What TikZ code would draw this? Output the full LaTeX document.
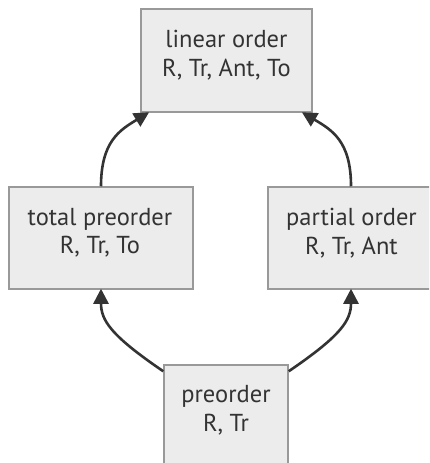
\documentclass[tikz,border=0pt]{standalone}
\usepackage{fontspec}
\setmainfont{PT Sans}
\usetikzlibrary{arrows.meta,calc}
\definecolor{boxfill}{HTML}{ECECEC}
\definecolor{boxline}{HTML}{999999}
\definecolor{ink}{HTML}{333333}
\tikzset{
  box/.style={draw=boxline, line width=1.5pt, fill=boxfill, inner sep=0pt},
  txt/.style={text=ink, align=center, font=\fontsize{24.5}{28.5}\selectfont, inner sep=0pt},
  conn/.style={draw=ink, line width=2.6pt, -{Triangle[length=15pt,width=15pt]}, shorten >=-1pt}
}
\begin{document}
\begin{tikzpicture}[x=1pt,y=-1pt]
\useasboundingbox (0,0) rectangle (429,463);
\clip (0,0) rectangle (429,463);
% boxes
\node[box, minimum width=171pt, minimum height=103pt] (lin) at (226.5,60.5) {};
\node[box, minimum width=184pt, minimum height=102pt] (tot) at (101,238) {};
\node[box, minimum width=166pt, minimum height=102pt] (par) at (351,238) {};
\node[box, minimum width=124pt, minimum height=102pt] (pre) at (226,416) {};
% texts
\node[txt] (linT) at (226.5,55) {linear order\\R, Tr, Ant, To};
\node[txt] (totT) at (100,232.5) {total preorder\\R, Tr, To};
\node[txt] (parT) at (351.5,233) {partial order\\R, Tr, Ant};
\node[txt] (preT) at (226,410) {preorder\\R, Tr};
% connectors
\coordinate (totTop) at (tot.north);
\coordinate (parTop) at (par.north);
\draw[conn] (totTop) .. controls ($(totTop)+(0,-45)$) and (120,130) .. ($(lin.south west)+(8,0)$);
\draw[conn] (parTop) .. controls ($(parTop)+(0,-45)$) and (332,130) .. ($(lin.south east)+(-10,0)$);
\draw[conn] ($(pre.north west)+(0,7)$) .. controls (110,335) and (101,320) .. (tot.south);
\draw[conn] ($(pre.north east)+(0,7)$) .. controls (342,335) and (351,320) .. (par.south);
\end{tikzpicture}
\end{document}
